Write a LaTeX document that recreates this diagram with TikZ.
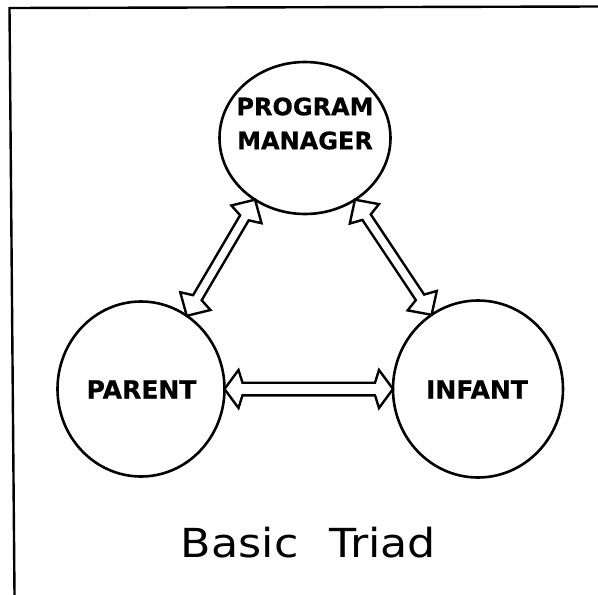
\documentclass[tikz,border=0pt]{standalone}
\usepackage{fontspec}
\setmainfont{DejaVu Sans}
\newfontfamily\lblfont[FakeBold=0.6]{DejaVu Sans Bold}
\newfontfamily\titlefont[FakeStretch=1.11]{DejaVu Sans}
\usetikzlibrary{shapes.geometric,calc}
\tikzset{
  ring/.style={draw, ellipse, line width=2.6pt, inner sep=0pt, outer sep=0pt},
  lbl/.style={font=\lblfont\fontsize{25}{34}\selectfont, align=center, inner sep=0pt},
  frameline/.style={line width=2.4pt, line cap=round},
  dbl/.style n args={4}{line width=2.4pt, line join=miter, to path={
    (\tikztostart)
    -- ($(\tikztostart)!#1!(\tikztotarget)!#3!90:(\tikztotarget)$)
    -- ($(\tikztostart)!#2!(\tikztotarget)!#4!90:(\tikztotarget)$)
    -- ($(\tikztotarget)!#2!(\tikztostart)!#4!-90:(\tikztostart)$)
    -- ($(\tikztotarget)!#1!(\tikztostart)!#3!-90:(\tikztostart)$)
    -- (\tikztotarget)
    -- ($(\tikztotarget)!#1!(\tikztostart)!#3!90:(\tikztostart)$)
    -- ($(\tikztotarget)!#2!(\tikztostart)!#4!90:(\tikztostart)$)
    -- ($(\tikztostart)!#2!(\tikztotarget)!#4!-90:(\tikztotarget)$)
    -- ($(\tikztostart)!#1!(\tikztotarget)!#3!-90:(\tikztotarget)$)
    -- cycle}}
}
\begin{document}
\begin{tikzpicture}[x=1pt,y=-1pt]
\useasboundingbox (0,0) rectangle (598,595);
% frame
\coordinate (tl) at (9.5,8);
\coordinate (tr) at (598,6.5);
\coordinate (bl) at (14.5,595);
\draw[frameline] (tr) -- (tl) -- (bl);
% circles
\node[ring, minimum width=171pt, minimum height=152pt] (pm) at (305,138) {};
\node[ring, minimum width=167pt, minimum height=175pt] (parent) at (141,389) {};
\node[ring, minimum width=170pt, minimum height=177pt] (infant) at (478,389) {};
% labels
\node[lbl, font=\lblfont\fontsize{24}{34}\selectfont] (pmtext) at (305,123.5) {PROGRAM\\MANAGER};
\node[lbl, anchor=base] (parenttext) at (141.5,398.5) {PARENT};
\node[lbl, anchor=base] (infanttext) at (477,398.5) {INFANT};
\node[font=\titlefont\fontsize{40}{48}\selectfont, inner sep=0pt, anchor=base] (title) at (308.5,557.5) {Basic\hspace{31pt}Triad};
% connectors
\draw[dbl={17pt}{21pt}{17.5pt}{5pt}] (pm.231) to (parent.58);
\draw[dbl={17pt}{21pt}{17.5pt}{5pt}] (pm.309) to (infant.122);
\draw[dbl={14pt}{18pt}{19pt}{6.3pt}] (parent.0) to (infant.180);
\end{tikzpicture}
\end{document}
